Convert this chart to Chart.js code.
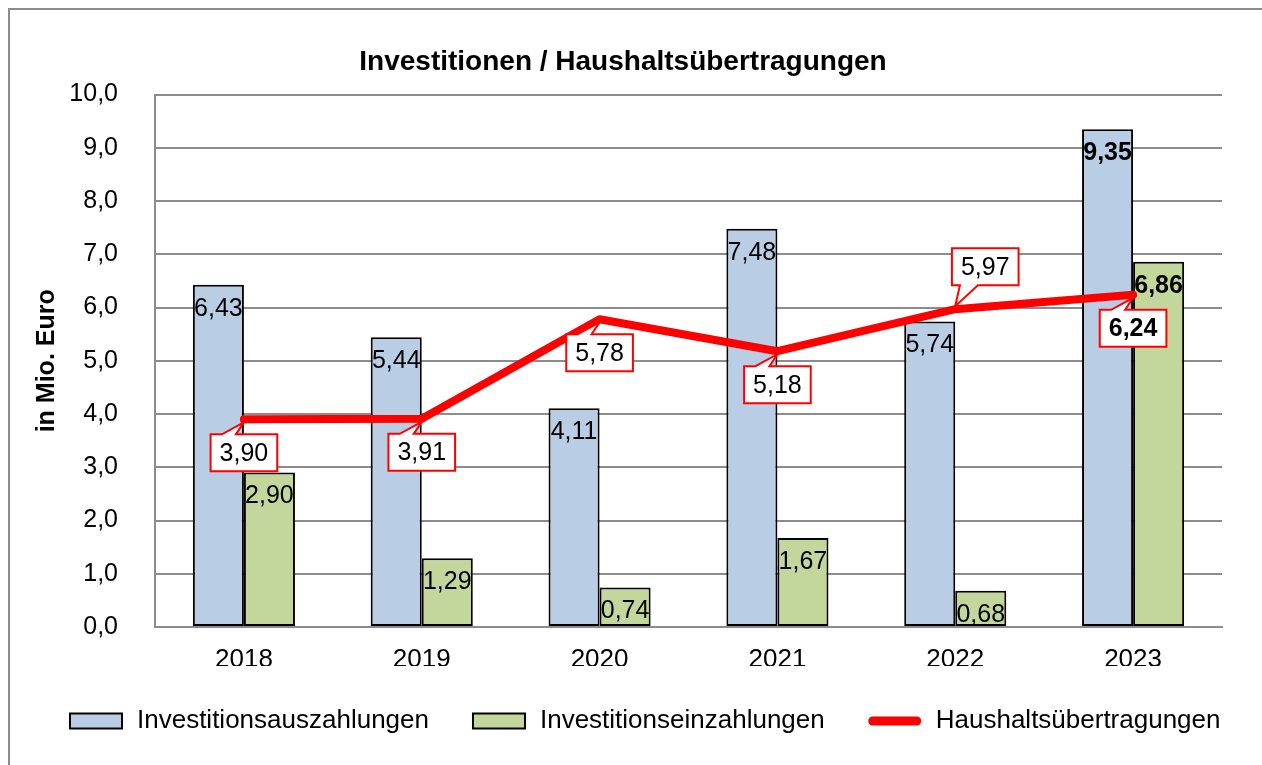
<!DOCTYPE html>
<html>
<head>
<meta charset="utf-8">
<script src="https://cdn.jsdelivr.net/npm/chart.js@4"></script>
<style>
	body { margin:0; background:#fff; }
	#frame { position:absolute; left:8px; top:8px; width:1300px; height:800px; border:2px solid #8c8c8c; }
	#c { position:absolute; left:0; top:0; }
</style>
</head>
<body>
<div id="frame"></div>
<canvas id="c" width="1262" height="765"></canvas>
<script>
const years = ['2018', '2019', '2020', '2021', '2022', '2023']
const auszahlungen = [6.43, 5.44, 4.11, 7.48, 5.74, 9.35]
const einzahlungen = [2.90, 1.29, 0.74, 1.67, 0.68, 6.86]
const uebertragungen = [3.90, 3.91, 5.78, 5.18, 5.97, 6.24]
const yTicks = [0, 1, 2, 3, 4, 5, 6, 7, 8, 9, 10]

const FONT = '"Liberation Sans", Arial, sans-serif'
Chart.defaults.font.family = FONT
Chart.defaults.color = '#000'

const fmt = (v, d) => v.toFixed(d).replace('.', ',')

//labels in bars, red callouts on the line, legend row
const labels = {
	id: 'labels',
	afterLayout(c) {
		// title sits a bit left of the plot centre
		const t = c.titleBlock
		if (t) { t.left = 0; t.right = 1246; t.width = 1246 }
	},
	afterDatasetsDraw(c) {
		const ctx = c.ctx
		const last = years.length - 1
		ctx.save()
		ctx.textAlign = 'center'
		ctx.textBaseline = 'middle'
		;[0, 1].forEach(i => {
			c.getDatasetMeta(i).data.forEach((b, j) => {
				ctx.font = (j === last ? 'bold ' : '') + '25px ' + FONT
				ctx.fillStyle = '#000'
				ctx.fillText(fmt(c.data.datasets[i].data[j], 2), b.x, b.y + 24)
			})
		})
		c.getDatasetMeta(2).data.forEach((p, j) => {
			const t = fmt(uebertragungen[j], 2)
			ctx.font = (j === last ? 'bold ' : '') + '25px ' + FONT
			const w = ctx.measureText(t).width + 18, h = 37
			const up = j === 4
			const cx = up ? p.x + 30 : p.x
			const top = up ? p.y - 24 - h : p.y + 15
			const l = cx - w / 2, r = cx + w / 2, btm = top + h
			ctx.beginPath()
			if (up) {
				ctx.moveTo(l, top); ctx.lineTo(r, top); ctx.lineTo(r, btm)
				ctx.lineTo(l + 26, btm); ctx.lineTo(p.x, p.y - 3); ctx.lineTo(l + 8, btm); ctx.lineTo(l, btm)
			} else {
				ctx.moveTo(l, top); ctx.lineTo(cx - 22, top); ctx.lineTo(p.x, p.y + 3); ctx.lineTo(cx - 8, top)
				ctx.lineTo(r, top); ctx.lineTo(r, btm); ctx.lineTo(l, btm)
			}
			ctx.closePath()
			ctx.fillStyle = '#fff'
			ctx.fill()
			ctx.lineWidth = 2
			ctx.strokeStyle = '#ff0000'
			ctx.stroke()
			ctx.fillStyle = '#000'
			ctx.fillText(t, cx, top + h / 2 + 1)
		})
		ctx.restore()
	},
	afterDraw(c) {
		const ctx = c.ctx
		ctx.save()
		ctx.font = '26px ' + FONT
		ctx.textBaseline = 'middle'
		ctx.textAlign = 'left'
		let x = 70
		const y = 721
		c.data.datasets.forEach(d => {
			if (d.type === 'line') {
				ctx.beginPath()
				ctx.moveTo(x + 4, y); ctx.lineTo(x + 48, y)
				ctx.lineCap = 'round'
				ctx.lineWidth = 9
				ctx.strokeStyle = d.borderColor
				ctx.stroke()
			} else {
				ctx.fillStyle = d.backgroundColor
				ctx.fillRect(x, y - 7.5, 52, 15)
				ctx.lineWidth = 2
				ctx.strokeStyle = d.borderColor
				ctx.strokeRect(x, y - 7.5, 52, 15)
			}
			ctx.fillStyle = '#000'
			ctx.fillText(d.label, x + 67, y)
			x += 67 + ctx.measureText(d.label).width + 44
		})
		ctx.restore()
	}
}

new Chart(document.getElementById('c'), {
	type: 'bar',
	data: {
		labels: years,
		datasets: [
			{
				label: 'Investitionsauszahlungen',
				data: auszahlungen,
				backgroundColor: '#b9cde5',
				borderColor: '#000',
				borderWidth: 2,
				borderSkipped: false,
				categoryPercentage: 0.574,
				barPercentage: 1,
				order: 1
			},
			{
				label: 'Investitionseinzahlungen',
				data: einzahlungen,
				backgroundColor: '#c3d69b',
				borderColor: '#000',
				borderWidth: 2,
				borderSkipped: false,
				categoryPercentage: 0.574,
				barPercentage: 1,
				order: 1
			},
			{
				type: 'line',
				label: 'Haushaltsübertragungen',
				data: uebertragungen,
				borderColor: '#ff0000',
				backgroundColor: '#ff0000',
				borderWidth: 8,
				borderCapStyle: 'round',
				borderJoinStyle: 'round',
				pointRadius: 0,
				tension: 0,
				order: 0
			}
		]
	},
	options: {
		responsive: false,
		animation: false,
		devicePixelRatio: 1,
		layout: { padding: { left: 0, right: 40, top: 0, bottom: 99 } },
		plugins: {
			tooltip: { enabled: false },
			legend: { display: false },
			title: {
				display: true,
				text: 'Investitionen / Haushaltsübertragungen',
				font: { size: 28, weight: 'bold' },
				color: '#000',
				padding: { top: 45, bottom: 16 }
			}
		},
		scales: {
			x: {
				grid: { display: false, drawTicks: false },
				border: { display: true, color: '#8c8c8c', width: 2 },
				ticks: { padding: 17, font: { size: 26 }, color: '#000' },
				afterFit: s => { s.height = 39 }
			},
			y: {
				min: 0,
				max: 10,
				afterBuildTicks: s => { s.ticks = yTicks.map(v => ({ value: v })) },
				grid: { color: '#8c8c8c', lineWidth: 2, drawTicks: false },
				border: { display: true, color: '#8c8c8c', width: 2 },
				ticks: { padding: 37, font: { size: 25 }, color: '#000', callback: v => fmt(v, 1) },
				title: {
					display: true,
					text: 'in Mio. Euro',
					font: { size: 25, weight: 'bold' },
					color: '#000',
					padding: { top: 32, bottom: 0 }
				},
				afterFit: s => { s.width = 155 }
			}
		}
	},
	plugins: [labels]
})
</script>
</body>
</html>
